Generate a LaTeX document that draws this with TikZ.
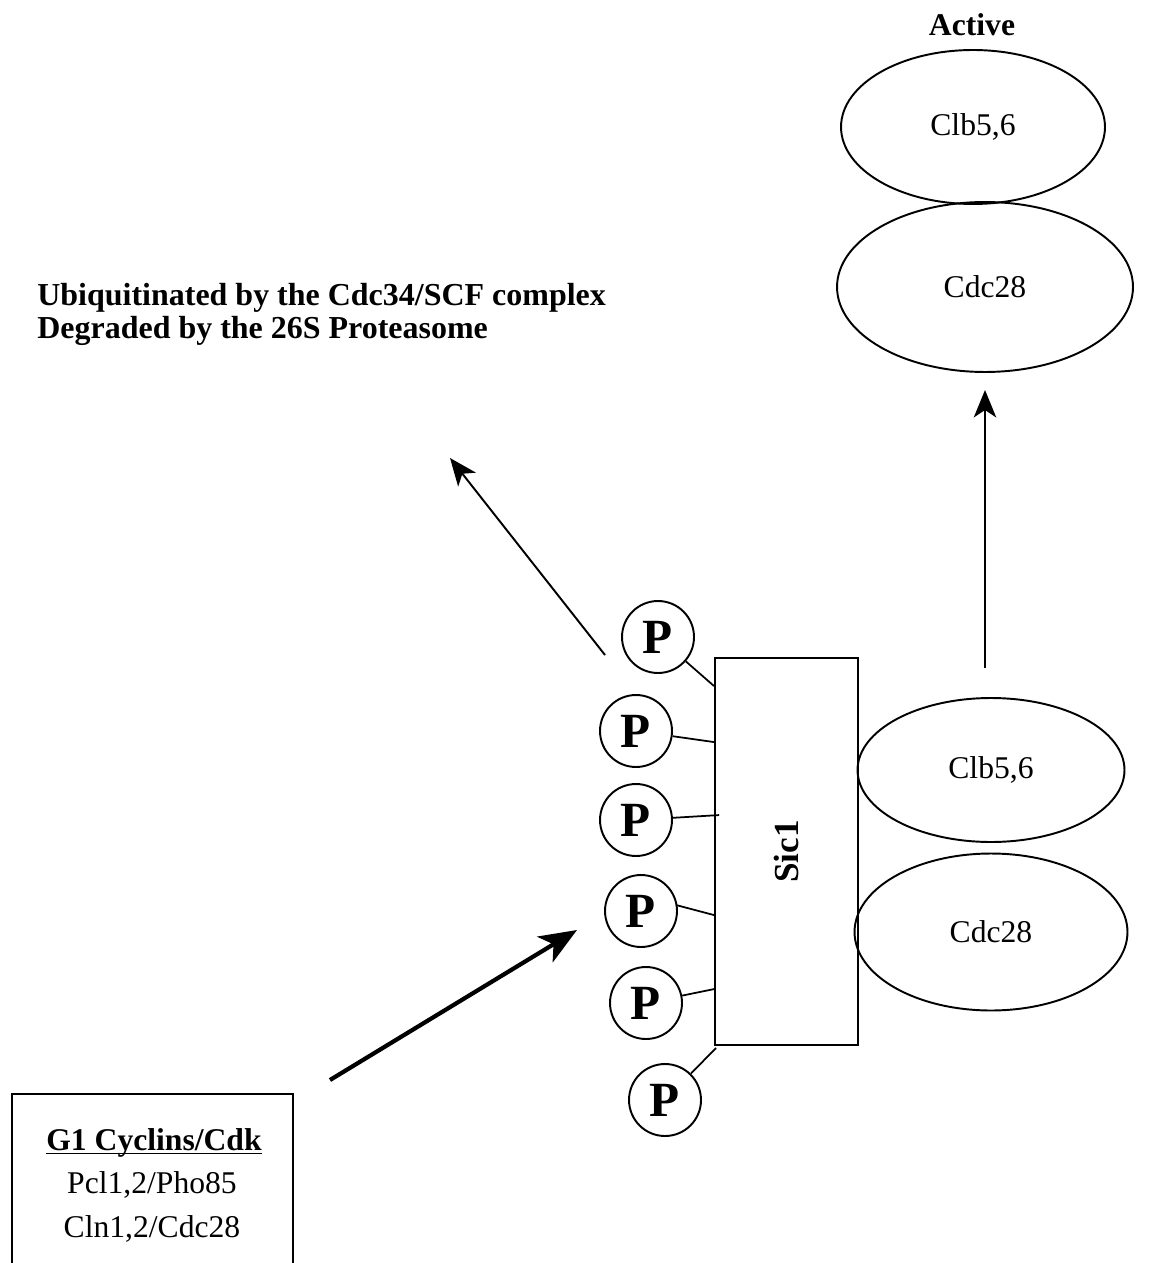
\documentclass[tikz,border=0pt]{standalone}
\usepackage{fontspec}
\setmainfont{Liberation Serif}
\usetikzlibrary{shapes.geometric,arrows.meta,calc}
\begin{document}
\begin{tikzpicture}[x=0.02cm,y=-0.02cm,
  lbl/.style={font=\fontsize{18}{20}\selectfont, inner sep=0pt},
  blbl/.style={font=\fontsize{18}{20}\selectfont\bfseries, inner sep=0pt},
  prot/.style={ellipse, draw, line width=1.1pt, inner sep=0pt, font=\fontsize{18}{20}\selectfont},
  pcirc/.style={circle, draw, line width=1.1pt, minimum size=1.44cm, inner sep=0pt, font=\fontsize{28}{28}\selectfont\bfseries},
  sicbox/.style={rectangle, draw, line width=1.1pt, minimum width=2.86cm, minimum height=7.74cm, inner sep=0pt},
  link/.style={line width=1pt},
  thinarrow/.style={line width=1.1pt, -{Stealth[length=0.55cm, width=0.45cm, inset=0.15cm]}},
  thickarrow/.style={line width=2.4pt, -{Stealth[length=0.75cm, width=0.6cm, inset=0.2cm]}}
]
\useasboundingbox (0,0) rectangle (1154,1263);

% Active complex
\node[blbl] (active) at (972,25) {Active};
\node[prot, minimum width=5.28cm, minimum height=3.08cm] (clbT) at (973,127) {Clb5,6};
\node[prot, minimum width=5.92cm, minimum height=3.40cm] (cdcT) at (985,287) {Cdc28};

% Inactive complex
\node[sicbox] (sic) at (786.5,851.5) {};
\node[font=\fontsize{20}{20}\selectfont\bfseries, rotate=90, inner sep=0pt] (sictext) at (sic.center) {Sic1};
\node[prot, minimum width=5.34cm, minimum height=2.88cm] (clbB) at (991,770) {Clb5,6};
\node[prot, minimum width=5.46cm, minimum height=3.14cm] (cdcB) at (991,932) {Cdc28};

% Phosphates
\node[pcirc] (p1) at (658,637) {P};
\node[pcirc] (p2) at (636,731) {P};
\node[pcirc] (p3) at (636,820) {P};
\node[pcirc] (p4) at (641,911) {P};
\node[pcirc] (p5) at (646,1003) {P};
\node[pcirc] (p6) at (665,1100) {P};

\coordinate (s1) at ($(sic.north west)+(0,29)$);
\coordinate (s2) at ($(sic.north west)+(0,85)$);
\coordinate (s3) at ($(sic.north west)+(5,158)$);
\coordinate (s4) at ($(sic.north west)+(0,258)$);
\coordinate (s5) at ($(sic.north west)+(0,332)$);
\coordinate (s6) at ($(sic.south west)+(2,2)$);
\draw[link] (p1) -- (s1);
\draw[link] (p2) -- (s2);
\draw[link] (p3) -- (s3);
\draw[link] ($(p4.east)+(-2,-6)$) -- (s4);
\draw[link] (p5) -- (s5);
\draw[link] (p6) -- (s6);

% Degradation
\node[font=\fontsize{18.2}{20}\selectfont\bfseries, inner sep=0pt, anchor=base west] (ubq) at (37,306) {Ubiquitinated by the Cdc34/SCF complex};
\node[font=\fontsize{18.2}{20}\selectfont\bfseries, inner sep=0pt, anchor=base west] (deg) at (37,339) {Degraded by the 26S Proteasome};
\coordinate (degstart) at (605,655);
\coordinate (degend) at (450,458);
\draw[thinarrow] (degstart) -- (degend);

% Activation
\coordinate (actstart) at (985,668);
\coordinate (actend) at (985,390);
\draw[thinarrow] (actstart) -- (actend);

% G1 Cyclins box
\draw[line width=1.2pt] (12,1263) -- (12,1094) -- (293,1094) -- (293,1263);
\node[blbl] (g1title) at (154,1143) {G1 Cyclins/Cdk};
\draw[line width=0.8pt] ($(g1title.base west)+(0,3)$) -- ($(g1title.base east)+(0,3)$);
\node[lbl] (g1a) at (152,1185) {Pcl1,2/Pho85};
\node[lbl] (g1b) at (152,1229) {Cln1,2/Cdc28};
\coordinate (kinstart) at (330,1080);
\coordinate (kinend) at (577,930);
\draw[thickarrow] (kinstart) -- (kinend);
\end{tikzpicture}
\end{document}
